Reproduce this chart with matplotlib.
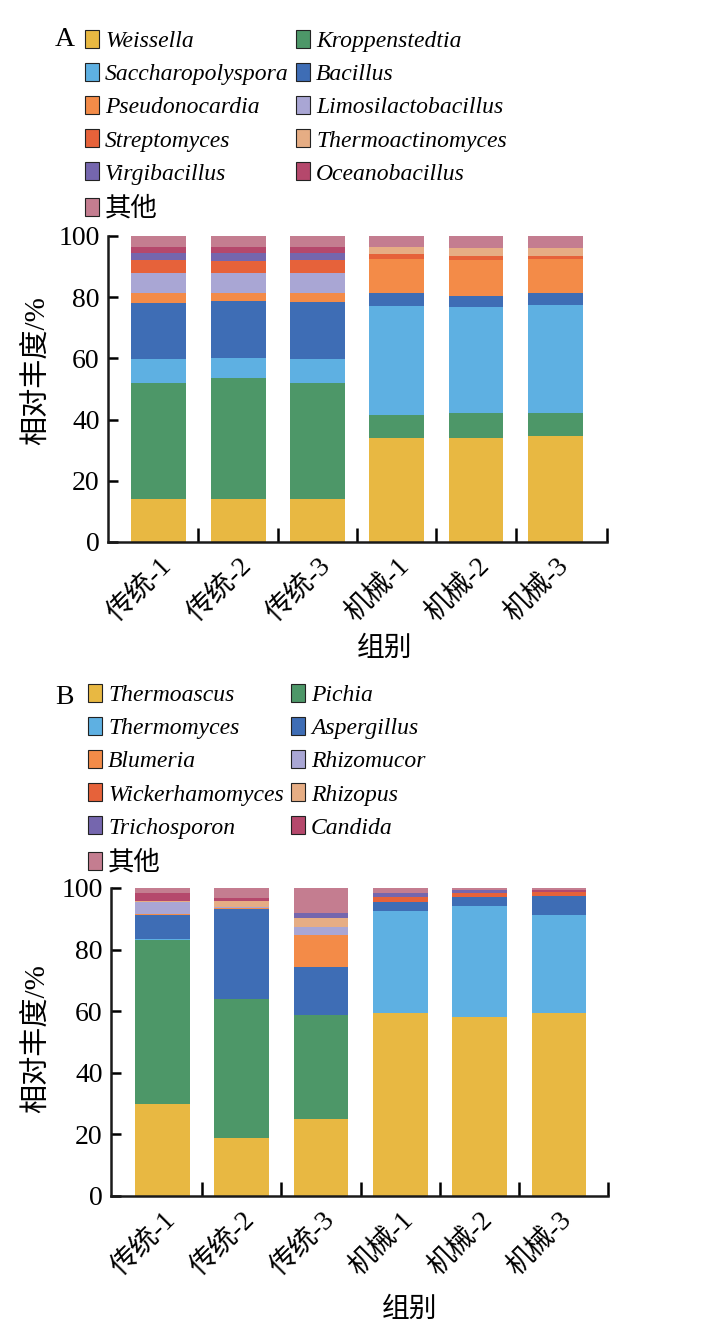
import matplotlib
matplotlib.use('Agg')
import matplotlib.pyplot as plt
from matplotlib.patches import Patch
import numpy as np

groups = ['传统-1', '传统-2', '传统-3', '机械-1', '机械-2', '机械-3']

# panel A - bacteria (stack order bottom -> top)
bact_names = ['Weissella', 'Kroppenstedtia', 'Saccharopolyspora', 'Bacillus',
              'Pseudonocardia', 'Limosilactobacillus', 'Streptomyces',
              'Thermoactinomyces', 'Virgibacillus', 'Oceanobacillus', '其他']
weissella = [14.0, 14.0, 14.0, 34.0, 34.0, 34.6]
kroppenstedtia = [38.0, 39.5, 38.0, 7.5, 8.1, 7.7]
saccharopolyspora = [7.8, 6.7, 7.8, 35.6, 34.8, 35.1]
bacillus = [18.4, 18.5, 18.7, 4.1, 3.6, 3.8]
pseudonocardia = [3.0, 2.5, 2.7, 11.3, 11.6, 11.3]
limosilactobacillus = [6.6, 6.8, 6.8, 0.0, 0.0, 0.0]
streptomyces = [4.3, 3.8, 4.1, 1.5, 1.5, 1.1]
thermoactinomyces = [0.0, 0.0, 0.0, 2.4, 2.6, 2.6]
virgibacillus = [2.2, 2.5, 2.2, 0.0, 0.0, 0.0]
oceanobacillus = [2.1, 2.1, 2.1, 0.0, 0.0, 0.0]
bact_other = [3.6, 3.6, 3.6, 3.6, 3.8, 3.8]

# panel B - fungi
fung_names = ['Thermoascus', 'Pichia', 'Thermomyces', 'Aspergillus', 'Blumeria',
              'Rhizomucor', 'Wickerhamomyces', 'Rhizopus', 'Trichosporon',
              'Candida', '其他']
thermoascus = [29.9, 18.9, 25.1, 59.4, 58.1, 59.4]
pichia = [53.1, 45.0, 33.6, 0.0, 0.0, 0.0]
thermomyces = [0.5, 0.0, 0.0, 33.1, 35.9, 31.7]
aspergillus = [7.6, 29.4, 15.7, 3.0, 3.2, 6.2]
blumeria = [0.5, 0.3, 10.2, 0.0, 0.0, 0.0]
rhizomucor = [3.8, 0.2, 2.7, 0.0, 0.0, 0.0]
wickerhamomyces = [0.0, 0.0, 0.0, 1.5, 1.3, 1.4]
rhizopus = [0.3, 2.0, 3.0, 0.0, 0.0, 0.0]
trichosporon = [0.0, 0.0, 1.4, 1.4, 0.7, 0.0]
candida = [2.8, 0.8, 0.0, 0.0, 0.0, 0.5]
fung_other = [1.5, 3.4, 8.3, 1.6, 0.8, 0.8]

bact_data = [weissella, kroppenstedtia, saccharopolyspora, bacillus, pseudonocardia,
             limosilactobacillus, streptomyces, thermoactinomyces, virgibacillus,
             oceanobacillus, bact_other]
fung_data = [thermoascus, pichia, thermomyces, aspergillus, blumeria, rhizomucor,
             wickerhamomyces, rhizopus, trichosporon, candida, fung_other]

colors = ['#E8B842', '#4D9768', '#5EB0E2', '#3E6DB5', '#F38B48', '#A9A6D4',
          '#E6623A', '#E6AD84', '#7566AE', '#B5486C', '#C47D90']

serif = ['Liberation Serif', 'Noto Sans CJK SC']
plt.rcParams['font.family'] = serif
plt.rcParams['font.size'] = 20

fig = plt.figure(figsize=(7.28, 13.33), dpi=100)


def draw_panel(ax, data, names, xlim, legend_xy, ylab_xy, xlab_xy):
    x = np.arange(len(groups))
    bottom = np.zeros(len(groups))
    for vals, c in zip(data, colors):
        ax.bar(x, vals, bottom=bottom, width=0.69, color=c, linewidth=0)
        bottom += np.array(vals)
    ax.set_xlim(*xlim)
    ax.set_ylim(0, 100)
    for s in ['top', 'right']:
        ax.spines[s].set_visible(False)
    for s in ['left', 'bottom']:
        ax.spines[s].set_linewidth(1.8)
        ax.spines[s].set_color('#1a1a1a')
    ax.set_yticks([0, 20, 40, 60, 80, 100])
    ax.tick_params(axis='y', direction='in', length=7, width=1.8, pad=6,
                   labelsize=20)
    # tick marks between the bars, labels under the bars
    ax.set_xticks([0.5, 1.5, 2.5, 3.5, 4.5, xlim[1]])
    ax.set_xticklabels([])
    ax.tick_params(axis='x', which='major', direction='in', length=10, width=1.8)
    ax.set_xticks(x, minor=True)
    ax.set_xticklabels(groups, minor=True, rotation=45, ha='right',
                       rotation_mode='anchor', fontsize=20)
    ax.tick_params(axis='x', which='minor', length=0, pad=8)
    ax.set_ylabel('相对丰度/%', fontsize=21)
    ax.yaxis.set_label_coords(*ylab_xy)
    ax.set_xlabel('组别', fontsize=20)
    ax.xaxis.set_label_coords(*xlab_xy)

    # legend filled row by row like the original
    order = [0, 2, 4, 6, 8, 10, 1, 3, 5, 7, 9]
    handles = [Patch(facecolor=colors[i], edgecolor='#222222', linewidth=0.8,
                     label=names[i]) for i in order]
    leg = fig.legend(handles=handles, loc='upper left', bbox_to_anchor=legend_xy,
                     ncol=2, frameon=False, borderpad=0, borderaxespad=0,
                     handlelength=0.6, handleheight=0.8, handletextpad=0.25,
                     labelspacing=0.46, columnspacing=0.3, fontsize=17)
    for t in leg.get_texts():
        if t.get_text() == '其他':
            t.set_fontstyle('normal')
            t.set_fontsize(19)
        else:
            t.set_fontstyle('italic')
    return leg


ax_a = fig.add_axes([0.1484, 0.5934, 0.6854, 0.2296])
draw_panel(ax_a, bact_data, bact_names, (-0.64, 5.65),
           (85 / 728, 1 - 30 / 1333), (-0.117, 0.56), (0.555, -0.31))
fig.text(55 / 728, 1 - 40 / 1333, 'A', fontsize=20, va='center', ha='left')

ax_b = fig.add_axes([0.1525, 0.1028, 0.6827, 0.2311])
draw_panel(ax_b, fung_data, fung_names, (-0.65, 5.62),
           (88 / 728, 1 - 684 / 1333), (-0.123, 0.51), (0.60, -0.33))
fig.text(55 / 728, 1 - 697 / 1333, 'B', fontsize=20, va='center', ha='left')

fig.savefig('out.png', dpi=100)
